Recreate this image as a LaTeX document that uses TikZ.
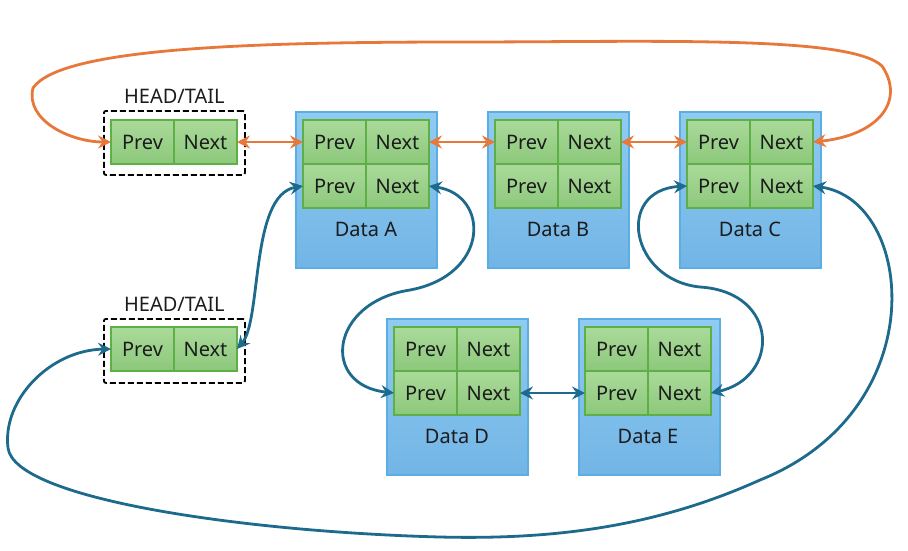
\documentclass[tikz,border=0pt]{standalone}
\usepackage{fontspec}
\setmainfont{Noto Sans}
\usepackage{tikz}
\usetikzlibrary{arrows.meta,positioning}

\definecolor{boxline}{HTML}{5AAEE3}
\definecolor{boxtop}{HTML}{90CBF1}
\definecolor{boxbot}{HTML}{72B5E6}
\definecolor{cellline}{HTML}{5FAF47}
\definecolor{celltop}{HTML}{AADA9A}
\definecolor{cellbot}{HTML}{8CC87B}
\definecolor{ringline}{HTML}{E8773A}
\definecolor{linkline}{HTML}{1D6A8D}
\definecolor{ink}{HTML}{1C1C1C}

\begin{document}
\begin{tikzpicture}[
    x=1pt, y=-1pt,
    font=\fontsize{20}{24}\selectfont, text=ink,
    data/.style={rectangle, draw=boxline, line width=1.5pt, top color=boxtop, bottom color=boxbot, minimum width=141pt, minimum height=156pt, anchor=north west},
    cell/.style={rectangle, draw=cellline, line width=1.2pt, top color=celltop, bottom color=cellbot, minimum width=63pt, minimum height=44pt, inner sep=0pt, outer sep=0pt},
    headbox/.style={rectangle, draw=black, line width=1.8pt, dash pattern=on 6pt off 3pt, rounded corners=2pt, minimum width=141pt, minimum height=64pt, anchor=north west},
    dataname/.style={inner sep=0pt},
    ring/.style={{Stealth[length=13pt,width=13pt,inset=4.5pt]}-{Stealth[length=13pt,width=13pt,inset=4.5pt]}, line width=2.8pt, draw=ringline},
    link/.style={{Stealth[length=13pt,width=13pt,inset=4.5pt]}-{Stealth[length=13pt,width=13pt,inset=4.5pt]}, line width=2.8pt, draw=linkline}
]
    \useasboundingbox (0,0) rectangle (908,550);

    % head/tail nodes
    \node[headbox] (head1) at (103,110) {};
    \node[cell, anchor=north west] (h1p) at (111,120) {Prev};
    \node[cell, right=0pt of h1p] (h1n) {Next};
    \node[above=3pt of head1] (head1label) {HEAD/TAIL};

    \node[headbox] (head2) at (103,318) {};
    \node[cell, anchor=north west] (h2p) at (111,327) {Prev};
    \node[cell, right=0pt of h2p] (h2n) {Next};
    \node[above=3pt of head2] (head2label) {HEAD/TAIL};

    % data nodes
    \node[data] (dataA) at (295,111) {};
    \node[cell, anchor=north west] (ap1) at (303,120) {Prev};
    \node[cell, right=0pt of ap1] (an1) {Next};
    \node[cell, below=0pt of ap1] (ap2) {Prev};
    \node[cell, right=0pt of ap2] (an2) {Next};
    \node[dataname, below=14pt of ap2.south east] {Data A};

    \node[data] (dataB) at (487,111) {};
    \node[cell, anchor=north west] (bp1) at (495,120) {Prev};
    \node[cell, right=0pt of bp1] (bn1) {Next};
    \node[cell, below=0pt of bp1] (bp2) {Prev};
    \node[cell, right=0pt of bp2] (bn2) {Next};
    \node[dataname, below=14pt of bp2.south east] {Data B};

    \node[data] (dataC) at (679,111) {};
    \node[cell, anchor=north west] (cp1) at (687,120) {Prev};
    \node[cell, right=0pt of cp1] (cn1) {Next};
    \node[cell, below=0pt of cp1] (cp2) {Prev};
    \node[cell, right=0pt of cp2] (cn2) {Next};
    \node[dataname, below=14pt of cp2.south east] {Data C};

    \node[data] (dataD) at (386,318) {};
    \node[cell, anchor=north west] (dp1) at (394,327) {Prev};
    \node[cell, right=0pt of dp1] (dn1) {Next};
    \node[cell, below=0pt of dp1] (dp2) {Prev};
    \node[cell, right=0pt of dp2] (dn2) {Next};
    \node[dataname, below=14pt of dp2.south east] {Data D};

    \node[data] (dataE) at (578,318) {};
    \node[cell, anchor=north west] (ep1) at (585,327) {Prev};
    \node[cell, right=0pt of ep1] (en1) {Next};
    \node[cell, below=0pt of ep1] (ep2) {Prev};
    \node[cell, right=0pt of ep2] (en2) {Next};
    \node[dataname, below=14pt of ep2.south east] {Data E};

    % first ring
    \draw[ring] (h1n.east) -- (ap1.west);
    \draw[ring] (an1.east) -- (bp1.west);
    \draw[ring] (bn1.east) -- (cp1.west);
    \draw[ring] (cn1.east) .. controls (880,135) and (905,100) .. (882,66)
        .. controls (850,35) and (650,42) .. (460,42)
        .. controls (250,42) and (60,48) .. (33,88)
        .. controls (25,120) and (70,142) .. (h1p.west);

    % second ring
    \draw[link] (h2n.east) .. controls (262,320) and (250,195) .. (ap2.west);
    \draw[link] (an2.east) .. controls (490,195) and (490,275) .. (410,290)
        .. controls (330,302) and (320,385) .. (dp2.west);
    \draw[link] (dn2.east) -- (ep2.west);
    \draw[link] (en2.east) .. controls (780,378) and (780,292) .. (700,287)
        .. controls (630,280) and (615,190) .. (cp2.west);
    \draw[link] (cn2.east) .. controls (915,200) and (935,410) .. (760,480)
        .. controls (660,525) and (560,540) .. (440,537)
        .. controls (250,532) and (15,500) .. (8,448)
        .. controls (2,400) and (50,350) .. (h2p.west);
\end{tikzpicture}
\end{document}
